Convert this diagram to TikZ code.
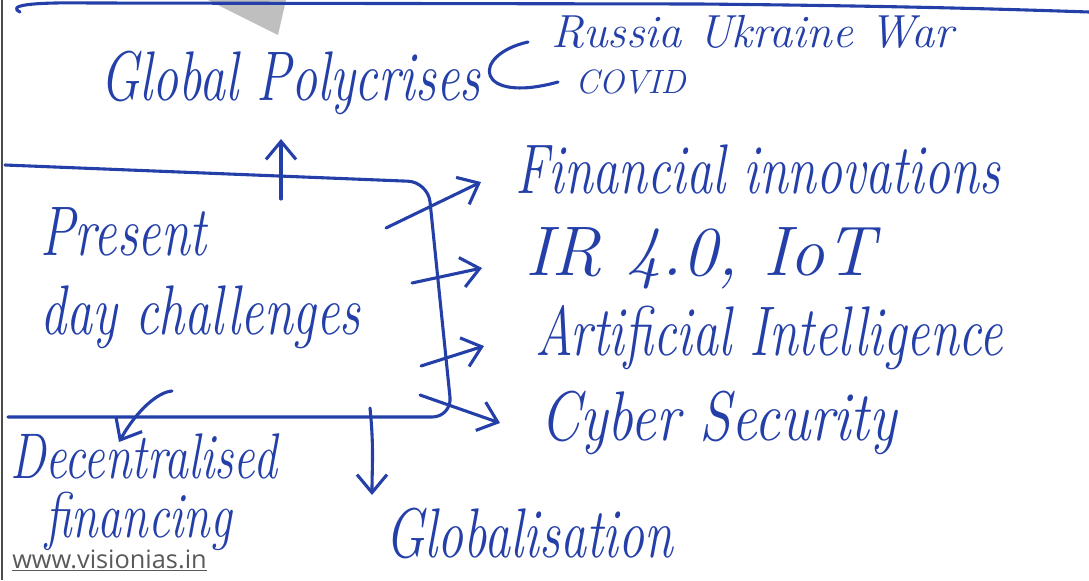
\documentclass[tikz,border=0pt]{standalone}
\usepackage{fontspec}
\usepackage{tikz}
\newfontfamily\websans{Open Sans}
\usetikzlibrary{arrows.meta}
\definecolor{ink}{RGB}{36,64,168}
\newcommand{\tall}[2][1]{\scalebox{#1}[1.35]{#2}}
\tikzstyle{inkline} = [draw=ink, line width=2.2pt, line cap=round, line join=round]
\tikzstyle{arr} = [inkline, -{Straight Barb[length=4.5mm, width=7.5mm]}]
\tikzstyle{hand} = [anchor=base west, inner sep=0pt, text=ink, font=\fontsize{37}{42}\selectfont\itshape]
\tikzstyle{handsmall} = [hand, font=\fontsize{34}{28}\selectfont\itshape]
\tikzstyle{note} = [hand, font=\fontsize{24}{28}\selectfont\itshape]
\tikzstyle{webmark} = [anchor=base west, inner sep=0pt, text=black!65, font=\websans\fontsize{18}{20}\selectfont]

\begin{document}
\begin{tikzpicture}[x=0.025cm, y=-0.025cm]
	\useasboundingbox (0,0) rectangle (1089,580);
	% page edge
	\fill[black!25] (208,0) -- (286,0) -- (278,35) -- cycle;
	\draw[black!70, line width=1.4pt] (2,0) -- (2,580);
	\draw[inkline] (20,12) .. controls (8,6) and (25,2) .. (90,3) -- (700,4) .. controls (900,6) and (1000,9) .. (1089,12);
	% labels
	\node[hand] (glob) at (100,100) {\tall{Global Polycrises}};
	\node[hand, font=\fontsize{33}{40}\selectfont\itshape] (russia) at (551,47) {Russia Ukraine War};
	\node[note] (covid) at (575,93) {COVID};
	\node[hand] (pdc) at (40,255) {\tall{\begin{tabular}[t]{@{}l@{}}Present\\day challenges\end{tabular}}};
	\node[hand] (fin) at (515,193) {\tall{Financial innovations}};
	\node[hand] (ir) at (525,275) {\tall[1.35]{IR 4.0, IoT}};
	\node[hand] (ai) at (535,355) {\tall{Artificial Intelligence}};
	\node[hand] (cyber) at (540,440) {\tall[1.1]{Cyber Security}};
	\node[handsmall] (dec) at (10,478) {\tall{\begin{tabular}[t]{@{}l@{}}Decentralised\\[-1pt]\hspace{0.875cm}financing\end{tabular}}};
	\node[hand] (gz) at (385,557) {\tall{Globalisation}};
	\node[webmark] (web) at (12,568) {\underline{www.visionias.in}};
	% box round present day challenges
	\coordinate (boxnw) at (5,165);
	\coordinate (boxne) at (428,182);
	\coordinate (boxse) at (452,417);
	\coordinate (boxsw) at (8,417);
	\draw[inkline, rounded corners=0.5cm] (boxnw) -- (boxne) -- (boxse) -- (boxsw);
	% arrows
	\coordinate (up) at (281,199);
	\coordinate (t1) at (386,228);
	\coordinate (t2) at (412,283);
	\coordinate (t3) at (421,366);
	\coordinate (t4) at (420,395);
	\coordinate (t5) at (370,408);
	\coordinate (t6) at (172,391);
	\draw[arr] (up) -- ([shift={(181,39)}]glob.base west);
	\draw[arr] (t1) -- ([shift={(-34,-11)}]fin.base west);
	\draw[arr] (t2) -- ([shift={(-43,-7)}]ir.base west);
	\draw[arr] (t3) -- ([shift={(-51,-9)}]ai.base west);
	\draw[arr] (t4) -- ([shift={(-40,-17)}]cyber.base west);
	\draw[arr] (t5) .. controls +(4,40) and +(0,-30) .. ([shift={(-13,-62)}]gz.base west);
	\draw[arr] (t6) .. controls +(-14,1) and +(18,-32) .. ([shift={(109,-36)}]dec.base west);
	\draw[inkline] ([shift={(-23,-5)}]russia.base west) .. controls +(-58,13) and +(-83,23) .. ([shift={(-17,-11)}]covid.base west);
\end{tikzpicture}
\end{document}
